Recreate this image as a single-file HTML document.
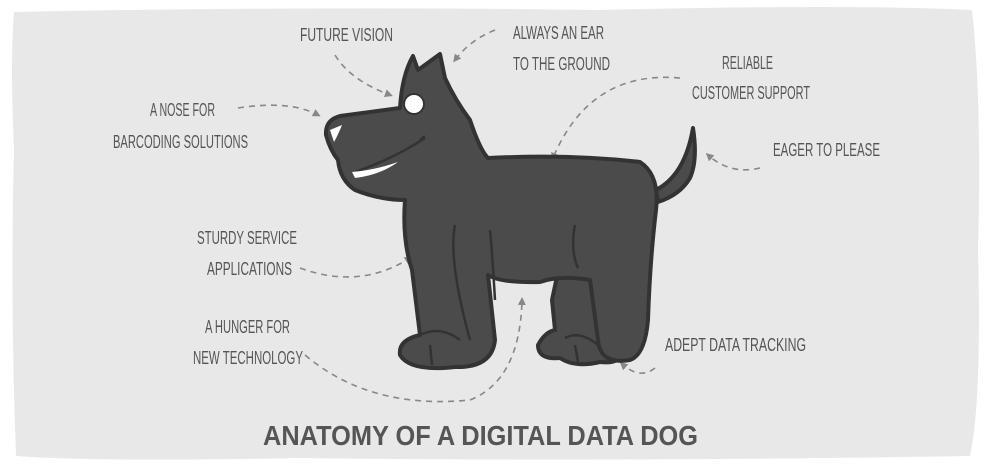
<!DOCTYPE html>
<html><head><meta charset="utf-8"><style>
html,body{margin:0;padding:0;background:#fff;width:990px;height:476px;overflow:hidden}
svg{display:block}
text{font-family:"Liberation Sans",sans-serif;fill:#555;font-size:18px}
</style></head><body>
<svg width="990" height="476" viewBox="0 0 990 476">
<defs><marker id="a" markerWidth="8" markerHeight="8" refX="5" refY="4" orient="auto" markerUnits="userSpaceOnUse"><path d="M0,0 L8,4 L0,8z" fill="#888"/></marker></defs>
<path d="M14,12 Q300,6 600,10 Q850,4 972,10 Q982,100 978,250 Q982,400 970,456 Q600,462 300,458 Q100,462 16,456 Q10,300 14,150 Q10,60 14,12z" fill="#e8e8e8"/>
<g fill="none" stroke="#888" stroke-width="1.6" stroke-dasharray="6,5" marker-end="url(#a)">
<path d="M335,55 Q350,80 390,95"/>
<path d="M495,30 Q470,40 455,60"/>
<path d="M238,108 Q290,100 318,115"/>
<path d="M680,78 Q590,70 553,158"/>
<path d="M760,168 Q730,175 708,155"/>
<path d="M300,268 Q360,290 410,258"/>
<path d="M305,355 Q370,410 470,400 Q520,380 522,300"/>
<path d="M655,368 Q640,380 622,364"/>
</g>
<g stroke="#333" stroke-width="4" stroke-linejoin="round" fill="#4b4b4b">
<path d="M656,190 Q685,175 693,128 Q698,160 690,178 Q680,195 658,202z"/>
<path d="M560,262 Q595,268 605,290 L622,345 Q625,365 600,362 Q575,368 560,358 Q538,360 538,345 Q545,332 555,330 L552,300z"/>
<path d="M413,56 L418,70 L440,54 L445,78 Q455,100 470,120 Q480,150 488,158 Q570,154 640,162 Q660,175 656,210 Q650,260 648,320 Q645,355 630,360 Q600,365 598,340 L590,280 Q560,275 540,282 Q500,283 488,275 L495,340 Q492,368 455,367 Q410,372 400,355 Q398,340 420,335 L412,270 Q402,240 405,200 Q380,200 355,190 Q340,180 338,160 Q330,150 326,135 Q325,120 340,116 L400,108 Q402,75 413,56z"/>
</g>
<g fill="none" stroke="#333" stroke-width="2.5">
<path d="M420,335 Q440,325 460,340"/><path d="M455,225 Q448,260 470,340"/>
<path d="M490,230 Q492,250 495,300"/><path d="M575,225 Q570,250 578,268"/>
<path d="M430,345 L432,365"/><path d="M565,338 Q580,330 598,345"/><path d="M575,345 L578,362"/>
<path d="M355,172 Q395,158 425,138"/><path d="M420,140 L425,136"/>
</g>
<ellipse cx="414" cy="104" rx="10" ry="10" fill="#fff" stroke="#333" stroke-width="2"/>
<path d="M330,130 L342,125 Q338,135 334,142z" fill="#fff"/>
<path d="M352,172 Q375,170 398,162 Q380,175 355,178z" fill="#fff"/>
<g lengthAdjust="spacingAndGlyphs">
<text x="300" y="41" textLength="93" lengthAdjust="spacingAndGlyphs">FUTURE VISION</text>
<text x="513" y="39" textLength="91" lengthAdjust="spacingAndGlyphs">ALWAYS AN EAR</text>
<text x="513" y="70" textLength="97" lengthAdjust="spacingAndGlyphs">TO THE GROUND</text>
<text x="150" y="116" textLength="65" lengthAdjust="spacingAndGlyphs">A NOSE FOR</text>
<text x="113" y="148" textLength="135" lengthAdjust="spacingAndGlyphs">BARCODING SOLUTIONS</text>
<text x="722" y="69" textLength="51" lengthAdjust="spacingAndGlyphs">RELIABLE</text>
<text x="692" y="99" textLength="118" lengthAdjust="spacingAndGlyphs">CUSTOMER SUPPORT</text>
<text x="773" y="156" textLength="107" lengthAdjust="spacingAndGlyphs">EAGER TO PLEASE</text>
<text x="197" y="244" textLength="100" lengthAdjust="spacingAndGlyphs">STURDY SERVICE</text>
<text x="207" y="275" textLength="85" lengthAdjust="spacingAndGlyphs">APPLICATIONS</text>
<text x="205" y="333" textLength="85" lengthAdjust="spacingAndGlyphs">A HUNGER FOR</text>
<text x="193" y="364" textLength="110" lengthAdjust="spacingAndGlyphs">NEW TECHNOLOGY</text>
<text x="665" y="351" textLength="141" lengthAdjust="spacingAndGlyphs">ADEPT DATA TRACKING</text>
<text x="263" y="445" textLength="435" lengthAdjust="spacingAndGlyphs" style="font-size:28px;font-weight:bold;fill:#555">ANATOMY OF A DIGITAL DATA DOG</text>
</g>
</svg>
</body></html>
